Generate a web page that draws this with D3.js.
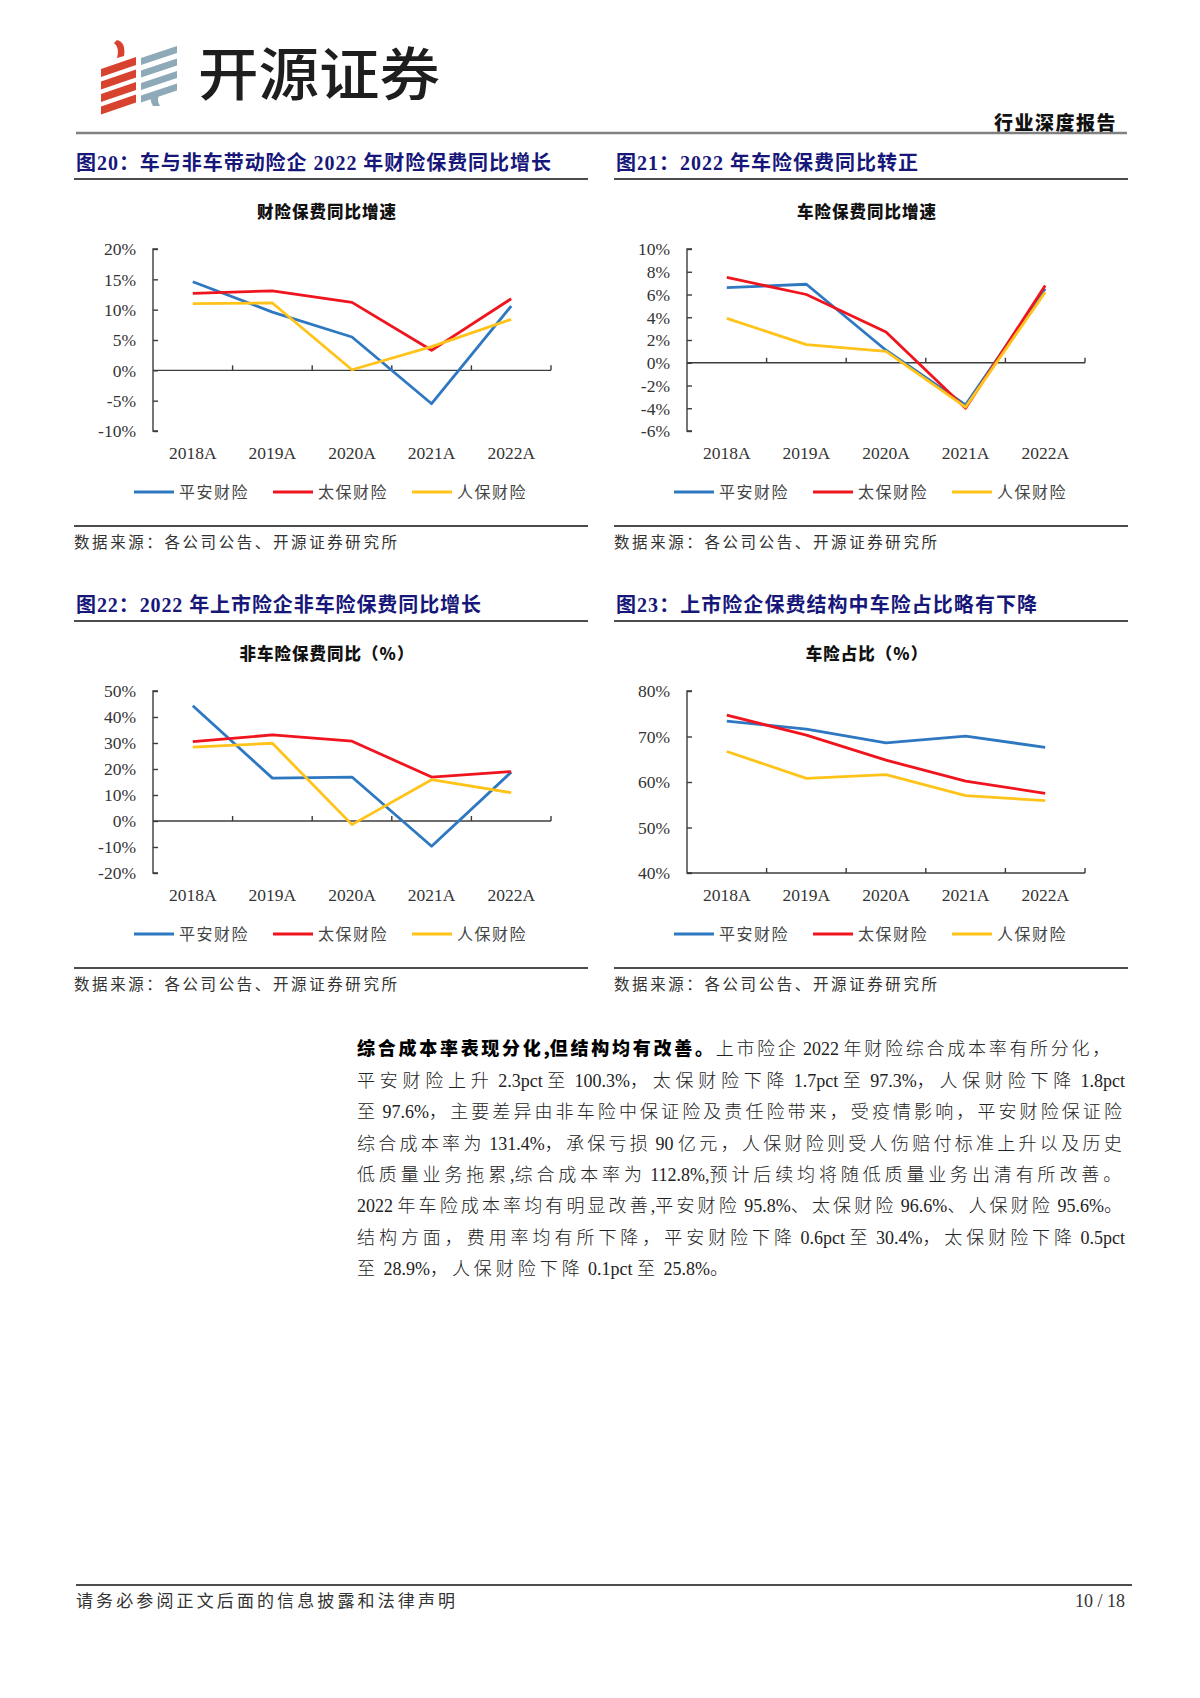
<!DOCTYPE html>
<html>
<head>
<meta charset="utf-8">
<script src="https://cdn.jsdelivr.net/npm/d3@7"></script>
<style>
  body { margin: 0; background: #fff; }
  svg { display: block; }
</style>
</head>
<body>
<svg id="page"></svg>
<script>
// ---- DATA ----
const years = ["2018A", "2019A", "2020A", "2021A", "2022A"];
const names = ["平安财险", "太保财险", "人保财险"];

// 图20 财险保费同比增速 (%)
const pingan20 = [14.6, 9.6, 5.5, -5.5, 10.6];
const taibao20 = [12.7, 13.1, 11.2, 3.3, 11.8];
const renbao20 = [11.0, 11.1, 0.1, 3.9, 8.4];
const ticks20 = [-10, -5, 0, 5, 10, 15, 20];

// 图21 车险保费同比增速 (%)
const pingan21 = [6.6, 6.9, 1.1, -3.7, 6.5];
const taibao21 = [7.5, 6.0, 2.7, -4.0, 6.8];
const renbao21 = [3.9, 1.6, 1.0, -3.9, 6.2];
const ticks21 = [-6, -4, -2, 0, 2, 4, 6, 8, 10];

// 图22 非车险保费同比 (%)
const pingan22 = [44.3, 16.5, 16.9, -9.7, 18.8];
const taibao22 = [30.5, 33.1, 30.7, 16.9, 19.0];
const renbao22 = [28.4, 29.9, -1.4, 15.9, 10.9];
const ticks22 = [-20, -10, 0, 10, 20, 30, 40, 50];

// 图23 车险占比 (%)
const pingan23 = [73.4, 71.6, 68.6, 70.1, 67.6];
const taibao23 = [74.7, 70.3, 64.8, 60.2, 57.5];
const renbao23 = [66.7, 60.8, 61.6, 57.0, 55.9];
const ticks23 = [40, 50, 60, 70, 80];

const figTitles = [
  "图20：车与非车带动险企 2022 年财险保费同比增长",
  "图21：2022 年车险保费同比转正",
  "图22：2022 年上市险企非车险保费同比增长",
  "图23：上市险企保费结构中车险占比略有下降"
];
const chartTitles = ["财险保费同比增速", "车险保费同比增速", "非车险保费同比（%）", "车险占比（%）"];
const sourceText = "数据来源：各公司公告、开源证券研究所";

const bodyBold = "综合成本率表现分化,但结构均有改善。";
const bodyLines = [
  "上市险企 2022 年财险综合成本率有所分化，",
  "平安财险上升 2.3pct 至 100.3%，太保财险下降 1.7pct 至 97.3%，人保财险下降 1.8pct",
  "至 97.6%，主要差异由非车险中保证险及责任险带来，受疫情影响，平安财险保证险",
  "综合成本率为 131.4%，承保亏损 90 亿元，人保财险则受人伤赔付标准上升以及历史",
  "低质量业务拖累,综合成本率为 112.8%,预计后续均将随低质量业务出清有所改善。",
  "2022 年车险成本率均有明显改善,平安财险 95.8%、太保财险 96.6%、人保财险 95.6%。",
  "结构方面，费用率均有所下降，平安财险下降 0.6pct 至 30.4%，太保财险下降 0.5pct",
  "至 28.9%，人保财险下降 0.1pct 至 25.8%。"
];

// ---- STYLE ----
const colors = ["#2e78c2", "#f0141e", "#ffc31a"];
const navy = "#17177a";
const serif = "'Liberation Serif', 'Noto Sans CJK SC', serif";
const cjk = "'Noto Sans CJK SC', sans-serif";

const W = 1200, H = 1698;
const svg = d3.select("#page").attr("width", W).attr("height", H);
svg.append("rect").attr("width", W).attr("height", H).attr("fill", "#fff");

// ---- HEADER ----
const logo = svg.append("g");
// red ribbon stripes
[0, 1, 2, 3].forEach(i => {
  const y0 = 57 + i * 12.5;
  logo.append("path")
    .attr("d", `M101,${y0 + 12} L136,${y0} L136,${y0 + 8} L101,${y0 + 20} Z`)
    .attr("fill", "#d8432f");
});
logo.append("path").attr("d", "M117,40 Q126,42 124,56 L117,58 Q120,48 114,43 Z").attr("fill", "#d8432f");
// grey-blue stripes
[0, 1, 2, 3].forEach(i => {
  const y0 = 46 + i * 12.5;
  logo.append("path")
    .attr("d", `M141,${y0 + 12} L177,${y0} L177,${y0 + 7} L141,${y0 + 19} Z`)
    .attr("fill", "#8eaab9");
});
logo.append("path").attr("d", "M152,94 L160,92 Q156,100 160,106 L153,106 Q149,100 152,94 Z").attr("fill", "#8eaab9");

svg.append("text")
  .attr("x", 198).attr("y", 74).attr("dy", "0.36em")
  .attr("font-family", cjk).attr("font-weight", 500).attr("font-size", 57)
  .attr("fill", "#1e1e1e")
  .attr("textLength", 242).attr("lengthAdjust", "spacingAndGlyphs")
  .text("开源证券");

svg.append("text")
  .attr("x", 1117).attr("y", 123).attr("dy", "0.36em").attr("text-anchor", "end")
  .attr("font-family", cjk).attr("font-weight", 900).attr("font-size", 19)
  .attr("fill", "#111").attr("letter-spacing", 1.5)
  .text("行业深度报告");

svg.append("line")
  .attr("x1", 76).attr("x2", 1127).attr("y1", 133).attr("y2", 133)
  .attr("stroke", "#808080").attr("stroke-width", 2.5);

// ---- CHARTS ----
const charts = [
  { series: [pingan20, taibao20, renbao20], ticks: ticks20, col: 0, row: 0, titleLen: 475 },
  { series: [pingan21, taibao21, renbao21], ticks: ticks21, col: 1, row: 0, titleLen: 302 },
  { series: [pingan22, taibao22, renbao22], ticks: ticks22, col: 0, row: 1, titleLen: 405 },
  { series: [pingan23, taibao23, renbao23], ticks: ticks23, col: 1, row: 1, titleLen: 421 }
];

charts.forEach((c, idx) => {
  const bx = c.col === 0 ? 74 : 614;       // block left
  const bw = 514;                           // block width
  const oy = c.row * 442;
  const g = svg.append("g");

  // figure caption + rule
  g.append("text")
    .attr("x", bx + 2).attr("y", 163 + oy).attr("dy", "0.36em")
    .attr("font-family", serif).attr("font-weight", "bold").attr("font-size", 20)
    .attr("fill", navy)
    .attr("textLength", c.titleLen).attr("lengthAdjust", "spacing")
    .text(figTitles[idx]);
  g.append("line")
    .attr("x1", bx).attr("x2", bx + bw).attr("y1", 179 + oy).attr("y2", 179 + oy)
    .attr("stroke", "#111").attr("stroke-width", 1.5);

  // chart title
  g.append("text")
    .attr("x", bx + 253).attr("y", 212 + oy).attr("dy", "0.36em").attr("text-anchor", "middle")
    .attr("font-family", cjk).attr("font-weight", 900).attr("font-size", 16.5)
    .attr("fill", "#111").attr("letter-spacing", 1)
    .text(chartTitles[idx]);

  // scales
  const x0 = bx + (c.col === 0 ? 79 : 73);
  const x1 = x0 + 398;
  const x = d3.scaleBand().domain(years).range([x0, x1]).padding(0);
  const y = d3.scaleLinear().domain(d3.extent(c.ticks)).range([431 + oy, 249 + oy]);
  const baseV = c.ticks.includes(0) ? 0 : d3.min(c.ticks);

  // y axis
  const yAxis = g.append("g").attr("transform", `translate(${x0},0)`)
    .call(d3.axisRight(y).tickValues(c.ticks).tickSize(5).tickFormat(""));
  yAxis.select(".domain").attr("d", `M5,${y.range()[0]}H0V${y.range()[1]}H5`);
  yAxis.selectAll("path, line").attr("stroke", "#3c3c3c").attr("stroke-width", 1.4);

  g.selectAll(".ylab").data(c.ticks).join("text")
    .attr("x", x0 - 17).attr("y", d => y(d)).attr("dy", "0.36em").attr("text-anchor", "end")
    .attr("font-family", serif).attr("font-size", 17.5).attr("fill", "#333")
    .text(d => d + "%");

  // x axis with ticks at band edges
  const edges = years.map(d => x(d)).concat([x1]);
  const xAxisG = g.append("g");
  xAxisG.append("line")
    .attr("x1", x0).attr("x2", x1).attr("y1", y(baseV)).attr("y2", y(baseV))
    .attr("stroke", "#3c3c3c").attr("stroke-width", 1.4);
  xAxisG.selectAll("line.tk").data(edges.slice(1)).join("line")
    .attr("class", "tk")
    .attr("x1", d => d).attr("x2", d => d)
    .attr("y1", y(baseV)).attr("y2", y(baseV) - 5)
    .attr("stroke", "#3c3c3c").attr("stroke-width", 1.4);

  g.selectAll(".xlab").data(years).join("text")
    .attr("x", d => x(d) + x.bandwidth() / 2).attr("y", 453 + oy).attr("dy", "0.36em")
    .attr("text-anchor", "middle")
    .attr("font-family", serif).attr("font-size", 17.5).attr("fill", "#333")
    .text(d => d);

  // series lines
  const line = d3.line()
    .x((d, i) => x(years[i]) + x.bandwidth() / 2)
    .y(d => y(d));
  c.series.forEach((s, i) => {
    g.append("path").datum(s)
      .attr("d", line).attr("fill", "none")
      .attr("stroke", colors[i]).attr("stroke-width", 2.8)
      .attr("stroke-linejoin", "round");
  });

  // legend
  names.forEach((n, i) => {
    const lx = bx + 60 + i * 139;
    g.append("line")
      .attr("x1", lx).attr("x2", lx + 40).attr("y1", 492 + oy).attr("y2", 492 + oy)
      .attr("stroke", colors[i]).attr("stroke-width", 3);
    g.append("text")
      .attr("x", lx + 45).attr("y", 492 + oy).attr("dy", "0.36em")
      .attr("font-family", cjk).attr("font-size", 16).attr("fill", "#444")
      .attr("letter-spacing", 1.5)
      .text(n);
  });

  // source
  g.append("line")
    .attr("x1", bx).attr("x2", bx + bw).attr("y1", 526 + oy).attr("y2", 526 + oy)
    .attr("stroke", "#111").attr("stroke-width", 1.5);
  g.append("text")
    .attr("x", bx).attr("y", 542 + oy).attr("dy", "0.36em")
    .attr("font-family", cjk).attr("font-size", 15.5).attr("fill", "#333")
    .attr("textLength", 323).attr("lengthAdjust", "spacing")
    .text(sourceText);
});

// ---- BODY TEXT ----
// justify by spreading only the CJK runs, so digits keep their natural spacing
const bodyX = 357, bodyW = 768, bodyY0 = 1049, lh = 31.4;
const cjkRun = /([\u3000-\u303f\u4e00-\u9fff\uff00-\uffef]+)/;
let lastSpacing = 2;
bodyLines.forEach((t, i) => {
  const txt = svg.append("text")
    .attr("x", bodyX).attr("y", bodyY0 + i * lh).attr("dy", "0.36em")
    .attr("font-family", serif).attr("font-size", 18).attr("fill", "#222");
  const runs = [];
  if (i === 0) bodyBold.split(cjkRun).filter(s => s).forEach(s => runs.push({ s, bold: true }));
  t.split(cjkRun).filter(s => s).forEach(s => runs.push({ s, bold: false }));
  const spans = runs.map(r => {
    const isCjk = cjkRun.test(r.s) && r.s.match(cjkRun)[0] === r.s;
    const sp = txt.append("tspan").text(r.s).classed("cj", isCjk);
    if (r.bold) sp.attr("font-family", cjk).attr("font-weight", 900).attr("fill", "#000");
    else if (isCjk) sp.attr("font-family", cjk).attr("font-weight", 300);
    return sp;
  });
  const cjSpans = spans.filter(sp => sp.classed("cj"));
  const nChars = d3.sum(cjSpans, sp => sp.text().length);
  let ls = lastSpacing;
  if (i < bodyLines.length - 1) {
    const natural = txt.node().getComputedTextLength();
    const target = i === 0 ? bodyW - 12 : bodyW;
    ls = (target - natural) / nChars;
    lastSpacing = ls;
  }
  cjSpans.forEach(sp => sp.attr("letter-spacing", ls));
});

// ---- FOOTER ----
svg.append("line")
  .attr("x1", 76).attr("x2", 1132).attr("y1", 1585).attr("y2", 1585)
  .attr("stroke", "#111").attr("stroke-width", 1.6);
svg.append("text")
  .attr("x", 76).attr("y", 1601).attr("dy", "0.36em")
  .attr("font-family", cjk).attr("font-size", 17).attr("fill", "#333")
  .attr("textLength", 379).attr("lengthAdjust", "spacing")
  .text("请务必参阅正文后面的信息披露和法律声明");
svg.append("text")
  .attr("x", 1125).attr("y", 1601).attr("dy", "0.36em").attr("text-anchor", "end")
  .attr("font-family", serif).attr("font-size", 18).attr("fill", "#333")
  .text("10 / 18");
</script>
</body>
</html>
